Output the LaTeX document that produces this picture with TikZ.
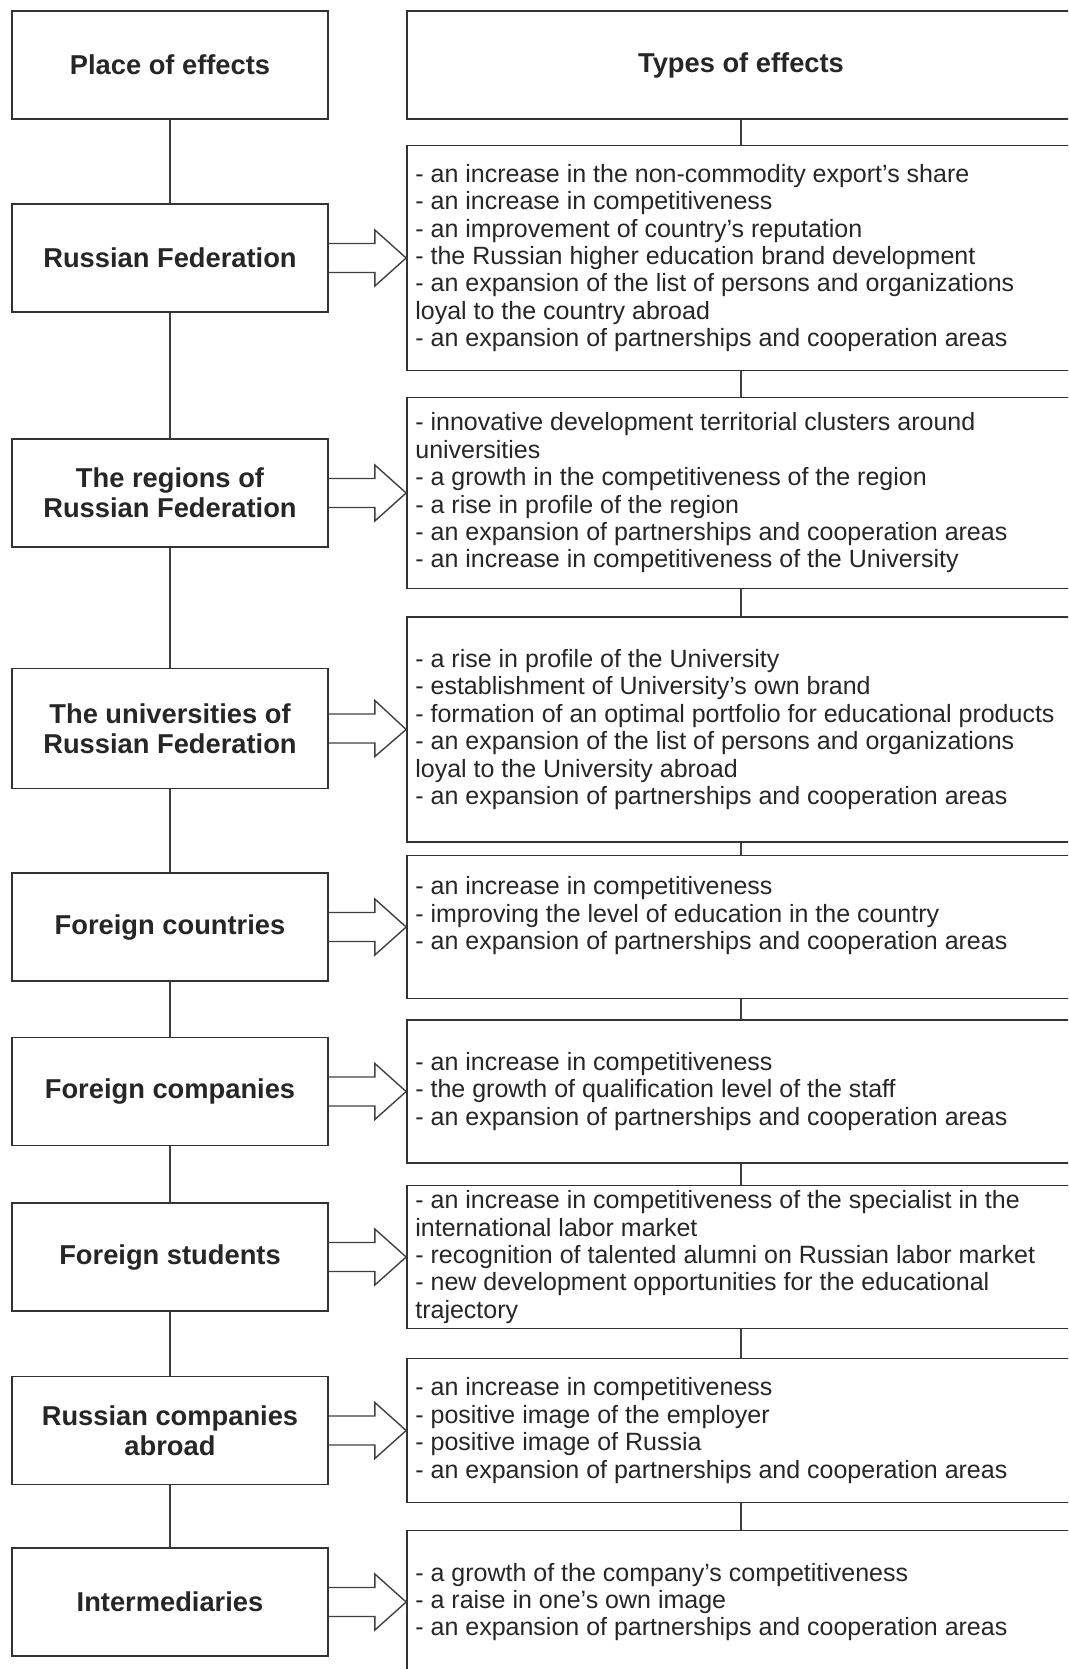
\documentclass[tikz,border=0pt]{standalone}
\usepackage{fontspec}
\setmainfont{Liberation Sans}
\usetikzlibrary{calc}
\newcommand\blockarr[2]{%
  \draw[blk] ($(#1.east)+(0,-14.5)$) -- ($(#1.east)+(46,-14.5)$) -- ($(#1.east)+(46,-28)$)
    -- (#2.west) -- ($(#1.east)+(46,28)$) -- ($(#1.east)+(46,14.5)$) -- ($(#1.east)+(0,14.5)$);}
\begin{document}
\begin{tikzpicture}[x=1pt,y=-1pt,
  box/.style={draw=black!80, line width=1.7pt, inner sep=0pt},
  lbox/.style={box, minimum width=316pt, minimum height=108pt, align=center,
    font=\fontsize{27.3}{30}\selectfont\bfseries, text=black!85},
  rbox/.style={box, minimum width=668pt},
  rtext/.style={anchor=west, align=left, inner sep=0pt,
    font=\fontsize{25}{27.4}\selectfont, text=black!85},
  link/.style={draw=black!75, line width=1.5pt},
  blk/.style={draw=black!75, line width=1.4pt, line join=miter}]
\useasboundingbox (0,0) rectangle (1068,1669);
\clip (0,0) rectangle (1068,1669);

% left column
\node[lbox] (l0) at (170,65) {Place of effects};
\node[lbox] (l1) at (170,258) {Russian Federation};
\node[lbox] (l2) at (170,493) {The regions of\\Russian Federation};
\node[lbox, minimum height=120pt] (l3) at (170,728.5) {The universities of\\Russian Federation};
\node[lbox] (l4) at (170,927) {Foreign countries};
\node[lbox] (l5) at (170,1091.5) {Foreign companies};
\node[lbox] (l6) at (170,1257) {Foreign students};
\node[lbox] (l7) at (170,1430.5) {Russian companies\\abroad};
\node[lbox] (l8) at (170,1602) {Intermediaries};

% right column
\node[rbox, minimum height=108pt, font=\fontsize{27.3}{30}\selectfont\bfseries, text=black!85] (r0) at (741,65) {Types of effects};
\node[rbox, minimum height=225pt] (r1) at (741,258) {};
\node[rbox, minimum height=191pt] (r2) at (741,493) {};
\node[rbox, minimum height=225pt] (r3) at (741,729.5) {};
\node[rbox, minimum height=143pt] (r4) at (741,927) {};
\node[rbox, minimum height=143pt] (r5) at (741,1091.5) {};
\node[rbox, minimum height=143pt] (r6) at (741,1257) {};
\node[rbox, minimum height=144pt] (r7) at (741,1430.5) {};
\node[rbox, minimum height=143pt] (r8) at (741,1602) {};

\node[rtext] (t1) at ($(r1.west)+(9,0)$) {- an increase in the non-commodity export's share\\
- an increase in competitiveness\\
- an improvement of country's reputation\\
- the Russian higher education brand development\\
- an expansion of the list of persons and organizations\\
loyal to the country abroad\\
- an expansion of partnerships and cooperation areas};
\node[rtext] (t2) at ($(r2.west)+(9,0)$) {- innovative development territorial clusters around\\
universities\\
- a growth in the competitiveness of the region\\
- a rise in profile of the region\\
- an expansion of partnerships and cooperation areas\\
- an increase in competitiveness of the University};
\node[rtext] (t3) at ($(r3.west)+(9,0)$) {- a rise in profile of the University\\
- establishment of University's own brand\\
- formation of an optimal portfolio for educational products\\
- an expansion of the list of persons and organizations\\
loyal to the University abroad\\
- an expansion of partnerships and cooperation areas};
\node[rtext] (t4) at ($(r4.west)+(9,0)$) {- an increase in competitiveness\\
- improving the level of education in the country\\
- an expansion of partnerships and cooperation areas\\
\mbox{}};
\node[rtext] (t5) at ($(r5.west)+(9,0)$) {- an increase in competitiveness\\
- the growth of qualification level of the staff\\
- an expansion of partnerships and cooperation areas};
\node[rtext] (t6) at ($(r6.west)+(9,0)$) {- an increase in competitiveness of the specialist in the\\
international labor market\\
- recognition of talented alumni on Russian labor market\\
- new development opportunities for the educational\\
trajectory};
\node[rtext] (t7) at ($(r7.west)+(9,0)$) {- an increase in competitiveness\\
- positive image of the employer\\
- positive image of Russia\\
- an expansion of partnerships and cooperation areas};
\node[rtext] (t8) at ($(r8.west)+(9,0)$) {- a growth of the company's competitiveness\\
- a raise in one's own image\\
- an expansion of partnerships and cooperation areas};

% vertical connectors
\foreach \a/\b in {l0/l1,l1/l2,l2/l3,l3/l4,l4/l5,l5/l6,l6/l7,l7/l8,
                   r0/r1,r1/r2,r2/r3,r3/r4,r4/r5,r5/r6,r6/r7,r7/r8}
  \draw[link] (\a.south) -- (\b.north);

% block arrows
\blockarr{l1}{r1}
\blockarr{l2}{r2}
\blockarr{l3}{r3}
\blockarr{l4}{r4}
\blockarr{l5}{r5}
\blockarr{l6}{r6}
\blockarr{l7}{r7}
\blockarr{l8}{r8}
\end{tikzpicture}
\end{document}
